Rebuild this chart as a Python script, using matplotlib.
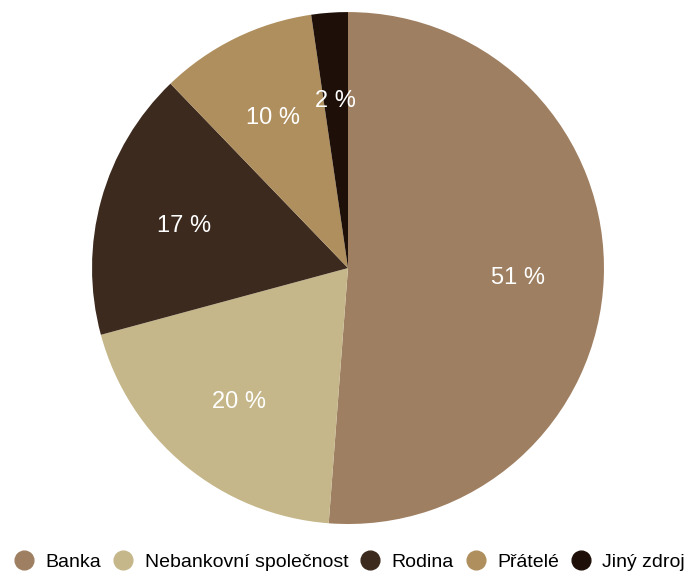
import matplotlib.pyplot as plt
from matplotlib.lines import Line2D

plt.rcParams['font.family'] = ['Liberation Sans', 'DejaVu Sans']

zdroje = ["Banka", "Nebankovní společnost", "Rodina", "Přátelé", "Jiný zdroj"]
podily = [51.2, 19.6, 17.0, 9.9, 2.3]
barvy = ["#9e7f61", "#c5b78a", "#3c2a1e", "#af8f5e", "#1e1008"]

fig = plt.figure(figsize=(6.87, 5.72), dpi=100)
ax = fig.add_axes([0.1339, 0.0839, 0.7453, 0.895])

wedges, texts, autotexts = ax.pie(
    podily, colors=barvy, startangle=90, counterclock=False,
    autopct=lambda p: f"{p:.0f} %", pctdistance=0.665, radius=1,
    wedgeprops=dict(linewidth=0),
    textprops=dict(color="white", fontsize=17),
)
# popisky o kousek níž, jako v originále
for t in autotexts:
    x, y = t.get_position()
    t.set_position((x, y - 0.012))

ax.set_xlim(-1, 1)
ax.set_ylim(-1, 1)
ax.set_aspect("equal")
ax.axis("off")

handles = [Line2D([0], [0], marker="o", linestyle="", markersize=13.5,
                  markerfacecolor=c, markeredgecolor=c) for c in barvy]
fig.legend(handles, zdroje, loc="center", bbox_to_anchor=(0.509, 0.017),
           ncol=5, frameon=False, fontsize=14, handletextpad=0.6,
           columnspacing=0.63, handlelength=1.0, borderpad=0, borderaxespad=0)

fig.savefig("out.png", dpi=100)
